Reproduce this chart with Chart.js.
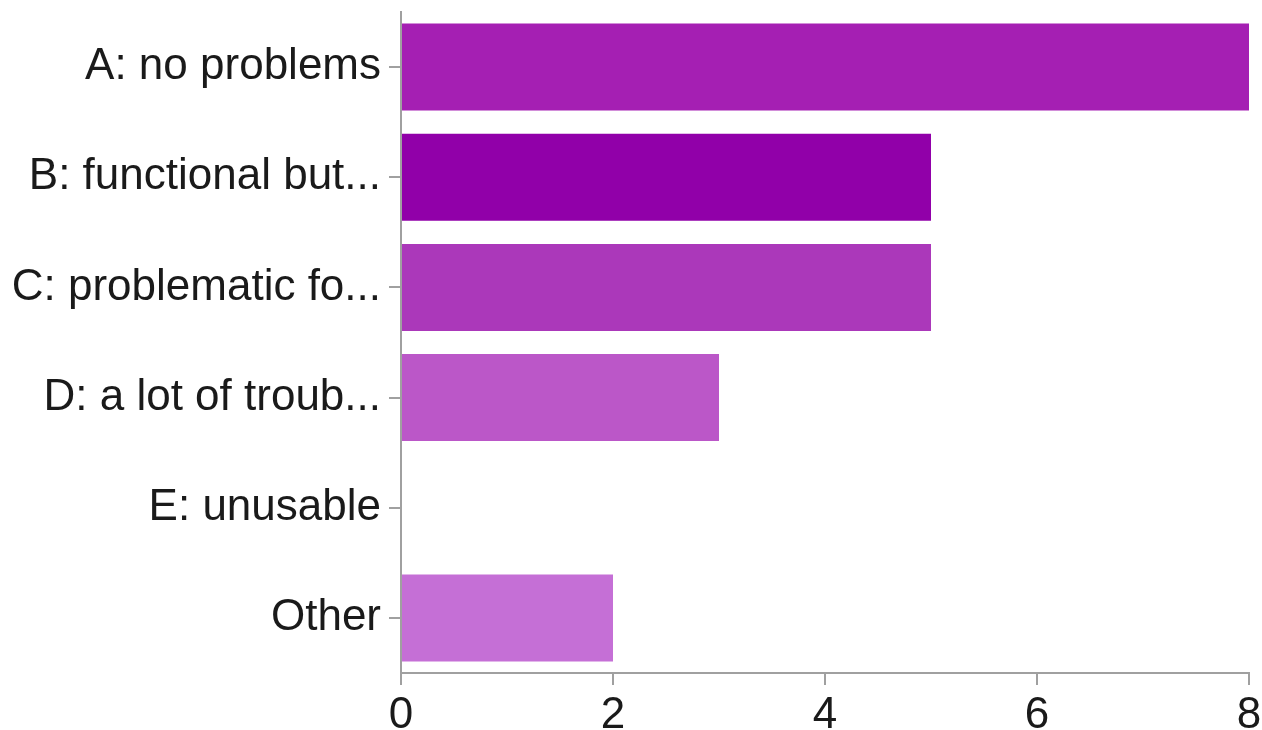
<!DOCTYPE html>
<html>
<head>
<meta charset="utf-8">
<script src="https://cdn.jsdelivr.net/npm/chart.js@4/dist/chart.umd.min.js"></script>
<style>
  html, body { margin: 0; padding: 0; background: #fff; }
  #wrap { width: 1262px; height: 730px; }
</style>
</head>
<body>
<div id="wrap"><canvas id="barChart" width="1262" height="730"></canvas></div>
<script>
const categories = ['A: no problems', 'B: functional but...', 'C: problematic fo...', 'D: a lot of troub...', 'E: unusable', 'Other'];
const counts = [8, 5, 5, 3, 0, 2];
const barColors = ['#a51fb3', '#9100a9', '#ab38ba', '#bb57c8', '#c062cf', '#c56fd6'];
const xTicks = [0, 2, 4, 6, 8];

document.addEventListener('DOMContentLoaded', () => {
    const ctx = document.getElementById('barChart').getContext('2d');
    const axisGray = '#a0a0a0';
    const font = { family: 'Liberation Sans, Arial, sans-serif', size: 44 };

    new Chart(ctx, {
        type: 'bar',
        data: {
            labels: categories,
            datasets: [{
                data: counts,
                backgroundColor: barColors,
                borderWidth: 0,
                barPercentage: 0.79,
                categoryPercentage: 1.0
            }]
        },
        options: {
            indexAxis: 'y',
            responsive: false,
            animation: false,
            layout: { padding: { top: 12, right: 13, left: 0, bottom: 0 } },
            plugins: {
                legend: { display: false },
                tooltip: { enabled: false }
            },
            scales: {
                x: {
                    min: 0,
                    max: 8,
                    afterBuildTicks: (scale) => {
                        scale.ticks = xTicks.map(v => ({ value: v }));
                    },
                    afterFit: (scale) => {
                        scale.height = 57;
                        scale.paddingLeft = 0;
                        scale.paddingRight = 0;
                    },
                    border: { display: true, color: axisGray, width: 2 },
                    grid: {
                        drawOnChartArea: false,
                        drawTicks: true,
                        tickLength: 12,
                        color: axisGray,
                        lineWidth: 2
                    },
                    ticks: { color: '#1a1a1a', font: font, padding: 4, maxRotation: 0 }
                },
                y: {
                    afterFit: (scale) => {
                        scale.width = 401;
                        scale.paddingTop = 0;
                        scale.paddingBottom = 0;
                    },
                    border: { display: true, color: axisGray, width: 2 },
                    grid: {
                        drawOnChartArea: false,
                        drawTicks: true,
                        tickLength: 12,
                        offset: false,
                        color: axisGray,
                        lineWidth: 2
                    },
                    ticks: { color: '#1a1a1a', font: font, padding: 8, autoSkip: false }
                }
            }
        }
    });
});
</script>
</body>
</html>
